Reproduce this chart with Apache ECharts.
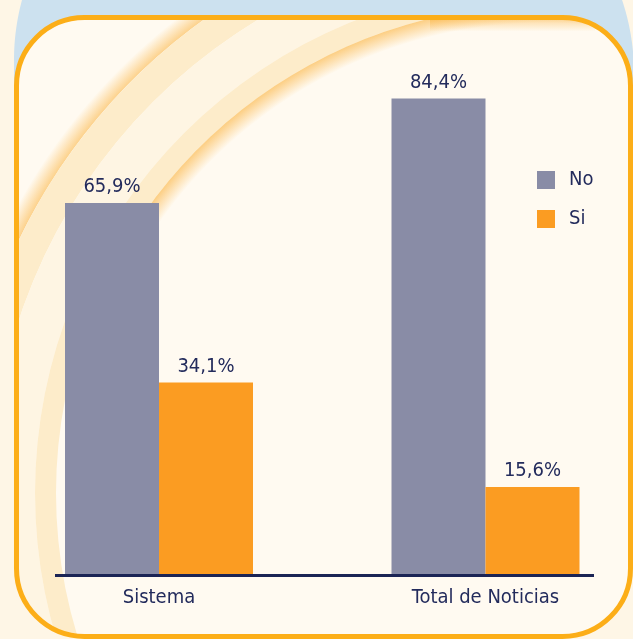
<!DOCTYPE html>
<html>
<head>
<meta charset="utf-8">
<style>
  html, body { margin: 0; padding: 0; background: #fef6e6; }
  #chart { width: 633px; height: 639px; }
</style>
<script src="https://cdn.jsdelivr.net/npm/echarts@6/dist/echarts.min.js"></script>
</head>
<body>
<div id="chart"></div>
<script>
const categories = ['Sistema', 'Total de Noticias'];
const seriesNames = ['No', 'Si'];
const noValues = [65.9, 84.4];
const siValues = [34.1, 15.6];

const FONT = "'DejaVu Sans Condensed', 'Liberation Sans Narrow', sans-serif";
const FS = 20;
const TEXT = '#232b5c';
const NO_COLOR = '#898ca6';
const SI_COLOR = '#fb9c22';

const fmt = p => p.value.toFixed(1).replace('.', ',') + '%';

// ---- decorative frame geometry (not data) ----
const X0 = 16.5, Y0 = 17.5, X1 = 630.5, Y1 = 636.5, R = 68;
function arcPts(cx, cy, r, a0, a1, n) {
  const pts = [];
  for (let i = 0; i <= n; i++) {
    const a = a0 + (a1 - a0) * i / n;
    pts.push([cx + r * Math.cos(a), cy + r * Math.sin(a)]);
  }
  return pts;
}
const PI = Math.PI;
const DEG = PI / 180;
const cornerTL = [[X0 - 1, Y0 - 1]].concat(arcPts(X0 + R, Y0 + R, R, PI, 1.5 * PI, 30));
const cornerTR = [[X1 + 1, Y0 - 1]].concat(arcPts(X1 - R, Y0 + R, R, 1.5 * PI, 2 * PI, 30));
const cornerBR = [[X1 + 1, Y1 + 1]].concat(arcPts(X1 - R, Y1 - R, R, 0, 0.5 * PI, 30));
const cornerBL = [[X0 - 1, Y1 + 1]].concat(arcPts(X0 + R, Y1 - R, R, 0.5 * PI, PI, 30));
const aL = Math.atan2(0 - 60, 22 - 243);
const aR = Math.atan2(0 - 73, 622 - 405);
const blueTop = [[14, 110]]
  .concat(arcPts(243, 60, 229, PI, 2 * PI + aL, 30))
  .concat([[22, -5], [622, -5]])
  .concat(arcPts(405, 73, 229, aR, 0, 30))
  .concat([[634, 110], [X1, 110]])
  .concat(arcPts(X1 - R, Y0 + R, R, 2 * PI, 1.5 * PI, 30))
  .concat(arcPts(X0 + R, Y0 + R, R, 1.5 * PI, PI, 30))
  .concat([[X0, 110]]);

const C = [544, 493];
const glow = a => `rgba(250,170,40,${a})`;
const CREAM = '#fef6e6';

const chart = echarts.init(document.getElementById('chart'), null, { renderer: 'canvas' });
chart.setOption({
  backgroundColor: CREAM,
  animation: false,
  textStyle: { fontFamily: FONT },
  grid: { left: -4.25, width: 653, top: 10.5, bottom: 64, outerBoundsMode: 'none', containLabel: false },
  legend: {
    data: seriesNames,
    orient: 'vertical',
    left: 537, top: 170,
    padding: 0,
    icon: 'rect',
    itemWidth: 18, itemHeight: 18,
    itemGap: 19,
    textStyle: { fontFamily: FONT, fontSize: FS, color: TEXT, padding: [0, 0, 0, 9] }
  },
  xAxis: {
    type: 'category',
    data: categories,
    axisLine: { show: false },
    axisTick: { show: false },
    axisLabel: { fontFamily: FONT, fontSize: FS, color: TEXT, margin: 13 }
  },
  yAxis: { type: 'value', min: 0, max: 100, show: false, splitLine: { show: false } },
  series: [
    {
      name: seriesNames[0], type: 'bar', data: noValues, barWidth: 94, barGap: '0%',
      itemStyle: { color: NO_COLOR },
      label: { show: true, position: 'top', distance: 6, formatter: fmt, fontFamily: FONT, fontSize: FS, color: TEXT }
    },
    {
      name: seriesNames[1], type: 'bar', data: siValues, barWidth: 94, barGap: '0%',
      itemStyle: { color: SI_COLOR },
      label: { show: true, position: 'top', distance: 6, formatter: fmt, fontFamily: FONT, fontSize: FS, color: TEXT }
    }
  ],
  graphic: [
    { type: 'rect', z: -20, shape: { x: X0, y: Y0, width: X1 - X0, height: Y1 - Y0 }, style: { fill: '#fffaf1' } },
    { type: 'sector', z: -19, shape: { cx: C[0], cy: C[1], r0: 583, r: 600, startAngle: 195 * DEG, endAngle: 262 * DEG },
      style: { fill: { type: 'radial', x: C[0], y: C[1], r: 600, global: true,
        colorStops: [{ offset: 0, color: glow(0.5) }, { offset: 583 / 600, color: glow(0.5) }, { offset: 1, color: glow(0) }] } } },
    { type: 'ring', z: -18, shape: { cx: C[0], cy: C[1], r0: 553, r: 583 }, style: { fill: '#fdecca' } },
    { type: 'ring', z: -18, shape: { cx: C[0], cy: C[1], r0: 509, r: 553 }, style: { fill: '#fef5e3' } },
    { type: 'ring', z: -18, shape: { cx: C[0], cy: C[1], r0: 488, r: 509 }, style: { fill: '#fdecca' } },
    { type: 'sector', z: -17, shape: { cx: C[0], cy: C[1], r0: 470, r: 488, startAngle: 198 * DEG, endAngle: 275 * DEG },
      style: { fill: { type: 'radial', x: C[0], y: C[1], r: 488, global: true,
        colorStops: [{ offset: 0, color: glow(0) }, { offset: 470 / 488, color: glow(0) }, { offset: 1, color: glow(0.55) }] } } },
    { type: 'rect', z: -16, shape: { x: 430, y: Y0, width: 165, height: 14 },
      style: { fill: { type: 'linear', x: 0, y: 0, x2: 0, y2: 1,
        colorStops: [{ offset: 0, color: glow(0.45) }, { offset: 1, color: glow(0) }] } } },
    { type: 'rect', z: -15, shape: { x: -5, y: -5, width: X0 + 5, height: 650 }, style: { fill: CREAM } },
    { type: 'rect', z: -15, shape: { x: X1, y: -5, width: 20, height: 650 }, style: { fill: CREAM } },
    { type: 'rect', z: -15, shape: { x: -5, y: -5, width: 650, height: Y0 + 5 }, style: { fill: CREAM } },
    { type: 'rect', z: -15, shape: { x: -5, y: Y1, width: 650, height: 20 }, style: { fill: CREAM } },
    { type: 'polygon', z: -15, shape: { points: cornerTL }, style: { fill: CREAM } },
    { type: 'polygon', z: -15, shape: { points: cornerTR }, style: { fill: CREAM } },
    { type: 'polygon', z: -15, shape: { points: cornerBR }, style: { fill: CREAM } },
    { type: 'polygon', z: -15, shape: { points: cornerBL }, style: { fill: CREAM } },
    { type: 'polygon', z: -14, shape: { points: blueTop }, style: { fill: '#cce1ef' } },
    { type: 'rect', z: -13, shape: { x: X0, y: Y0, width: X1 - X0, height: Y1 - Y0, r: R },
      style: { fill: null, stroke: '#fcae18', lineWidth: 5 } },
    { type: 'line', z: 10, shape: { x1: 55, y1: 575.5, x2: 594, y2: 575.5 },
      style: { stroke: '#1b2455', lineWidth: 3 } }
  ]
});
</script>
</body>
</html>
